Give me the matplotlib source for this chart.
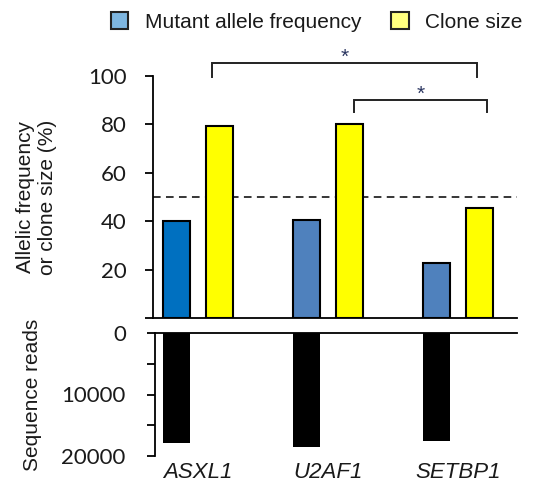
import matplotlib
matplotlib.use("Agg")
import matplotlib.pyplot as plt
from matplotlib.patches import Patch

genes = ["ASXL1", "U2AF1", "SETBP1"]
allele_freq = [40.0, 40.5, 22.7]
clone_size = [79.5, 80.2, 45.5]
seq_reads = [17900, 18500, 17550]
blue_colors = ["#0070C0", "#4F81BD", "#4F81BD"]
threshold = 50
# significance brackets: (x_left, x_right, y_top, y_leg_end)
brackets = [(0.11, 2.15, 105.4, 99.6), (1.20, 2.22, 90.1, 85.1)]

TXT = "#1a1a1a"
plt.rcParams["font.family"] = ["Liberation Sans", "DejaVu Sans"]

fig = plt.figure(figsize=(5.53, 4.87), dpi=100)
W, H = 553, 487
def fx(px): return px / W
def fy(py): return 1 - py / H

x = list(range(len(genes)))
off = 0.166
bw = 0.21
xlim = (-0.346, 2.454)

# top axes
ax1 = fig.add_axes([fx(153), fy(318), fx(517) - fx(153), fy(76) - fy(318)])
ax1.bar([i - off for i in x], allele_freq, width=bw, color=blue_colors,
        edgecolor="black", linewidth=1.5, zorder=3)
ax1.bar([i + off for i in x], clone_size, width=bw, color="#FFFF00",
        edgecolor="black", linewidth=1.5, zorder=3)
ax1.axhline(threshold, color="black", linestyle=(0, (5, 3.5)), linewidth=1.1, zorder=2)
ax1.set_xlim(*xlim)
ax1.set_ylim(0, 100)
ax1.set_yticks([0, 20, 40, 60, 80, 100])
ax1.set_yticklabels(["", "20", "40", "60", "80", "100"])
ax1.set_xticks([])
for s in ["top", "right"]:
    ax1.spines[s].set_visible(False)
ax1.spines["left"].set_linewidth(1.3)
ax1.spines["bottom"].set_linewidth(1.3)
ax1.tick_params(axis="y", direction="out", length=6, width=1.3, pad=13,
                labelsize=16, labelcolor=TXT, labelfontfamily="Lato")
ax1.set_ylabel("Allelic frequency\nor clone size (%)", fontsize=15, color=TXT,
               linespacing=1.2)
ax1.yaxis.set_label_coords((57 - 153) / (517 - 153), 0.5)

for xl, xr, yt, yb in brackets:
    ax1.plot([xl, xl, xr, xr], [yb, yt, yt, yb], color="#222222", linewidth=1.4,
             clip_on=False, solid_joinstyle="miter")
    ax1.text((xl + xr) / 2, yt - 1.8, "*", ha="center", va="bottom", fontsize=15,
             color="#2a3560", clip_on=False)

# bottom axes
ax2 = fig.add_axes([fx(155), fy(456), fx(517) - fx(155), fy(333) - fy(456)])
ax2.bar([i - off for i in x], seq_reads, width=bw, color="black", zorder=3)
ax2.set_xlim(xlim[0] + 2 / 130, xlim[1])
ax2.set_ylim(20000, 0)
ax2.set_yticks([0, 5000, 10000, 15000, 20000])
ax2.set_yticklabels(["0", "", "10000", "", "20000"])
ax2.set_xticks(x)
ax2.set_xticklabels(genes, fontstyle="italic", fontsize=16, color=TXT)
for s in ["bottom", "right"]:
    ax2.spines[s].set_visible(False)
ax2.spines["left"].set_linewidth(1.3)
ax2.spines["top"].set_linewidth(1.3)
ax2.tick_params(axis="y", direction="out", length=6, width=1.3, pad=15,
                labelsize=16, labelcolor=TXT, labelfontfamily="Lato")
ax2.tick_params(axis="x", length=0, pad=4)
ax2.set_ylabel("Sequence reads", fontsize=15, color=TXT)
ax2.yaxis.set_label_coords((42 - 155) / (517 - 155), 0.5)

# legend
handles = [Patch(facecolor="#7EB6E0", edgecolor="#222222", linewidth=1.5,
                 label="Mutant allele frequency"),
           Patch(facecolor="#FFFF80", edgecolor="#222222", linewidth=1.5,
                 label="Clone size")]
leg = fig.legend(handles=handles, loc="center left",
                 bbox_to_anchor=(fx(111), fy(22)), ncol=2, frameon=False,
                 fontsize=15, handlelength=0.82, handleheight=0.9,
                 handletextpad=0.8, columnspacing=1.45, borderpad=0,
                 borderaxespad=0)
for t in leg.get_texts():
    t.set_color(TXT)

fig.savefig("out.png", dpi=100)
